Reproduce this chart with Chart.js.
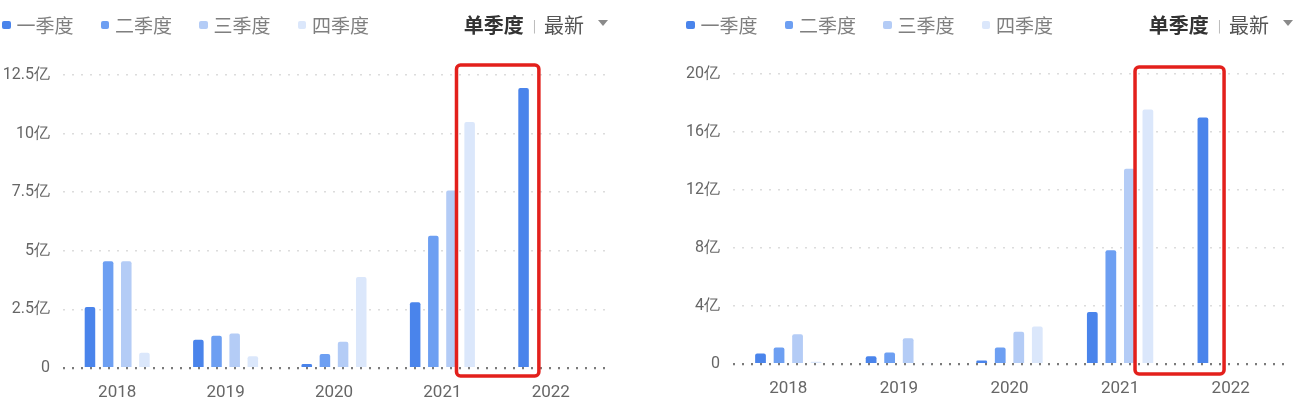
<!DOCTYPE html>
<html>
<head>
<meta charset="utf-8">
<script src="https://cdn.jsdelivr.net/npm/chart.js@4"></script>
<style>
  html, body { margin: 0; padding: 0; background: #fff; }
  body { width: 1300px; height: 412px; position: relative; overflow: hidden;
         font-family: "Noto Sans CJK SC", "Noto Sans", sans-serif; }
  .panel { position: absolute; top: 0; width: 650px; height: 412px; }
  .panel canvas { position: absolute; left: 0; top: 0; }
  .legend { position: absolute; top: 11px; display: flex; }
  .legend-item { display: flex; align-items: center; width: 98.5px; color: #7f7f7f; font-size: 19px; line-height: 28px; }
  .legend-item i { display: inline-block; width: 8.5px; height: 8.5px; border-radius: 2px; margin-right: 6px; }
  .mode { position: absolute; top: 11px; display: flex; align-items: center; line-height: 28px; }
  .mode b { font-size: 20px; color: #333; font-weight: 700; }
  .mode .sep { font-size: 12px; color: #aaa; margin: 0 8px 0 9px; }
  .mode span.latest { font-size: 20px; color: #555; }
  .mode .arrow { width: 0; height: 0; border-left: 5.5px solid transparent; border-right: 5.5px solid transparent;
                 border-top: 6px solid #8a8a8a; margin-left: 14px; margin-top: -4px; }
</style>
</head>
<body>
<div class="panel" id="leftPanel" style="left:0">
  <canvas id="leftChart" width="650" height="412"></canvas>
</div>
<div class="panel" id="rightPanel" style="left:650px">
  <canvas id="rightChart" width="650" height="412"></canvas>
</div>
<script>
"use strict";

// 年份 / 季度
const years = ["2018", "2019", "2020", "2021", "2022"];
const quarterNames = ["一季度", "二季度", "三季度", "四季度"];
const quarterColors = ["#4a84eb", "#6d9ff2", "#b4ccf6", "#dbe7fb"];

// 左图（亿）
const leftQ1 = [2.6, 1.2, 0.17, 2.8, 11.95];
const leftQ2 = [4.55, 1.38, 0.6, 5.64, null];
const leftQ3 = [4.55, 1.47, 1.12, 7.57, null];
const leftQ4 = [0.65, 0.5, 3.88, 10.5, null];
const leftTicks = [0, 2.5, 5, 7.5, 10, 12.5];

// 右图（亿）
const rightQ1 = [0.73, 0.53, 0.25, 3.59, 17.0];
const rightQ2 = [1.14, 0.8, 1.14, 7.85, null];
const rightQ3 = [2.06, 1.78, 2.22, 13.46, null];
const rightQ4 = [0.16, 0.06, 2.58, 17.55, null];
const rightTicks = [0, 4, 8, 12, 16, 20];

const modeLabel = "单季度";
const latestLabel = "最新";

// 红框：高亮 2021 四季度 ~ 2022 一季度
const highlightBox = {
  id: "highlightBox",
  afterDatasetsDraw(chart, args, opts) {
    const x = chart.scales.x;
    const area = chart.chartArea;
    const x0 = x.getPixelForValue(opts.from);
    const x1 = x.getPixelForValue(opts.to);
    const y0 = area.top - opts.above;
    const y1 = area.bottom + opts.below;
    const ctx = chart.ctx;
    ctx.save();
    ctx.strokeStyle = "#e3201c";
    ctx.lineWidth = 3.5;
    ctx.beginPath();
    ctx.roundRect(x0, y0, x1 - x0, y1 - y0, 4);
    ctx.stroke();
    ctx.restore();
  },
};

function addHeader(panel, legendLeft, modeRight) {
  const legend = document.createElement("div");
  legend.className = "legend";
  legend.style.left = legendLeft + "px";
  legend.innerHTML = quarterNames
    .map((n, i) => `<div class="legend-item"><i style="background:${quarterColors[i]}"></i>${n}</div>`)
    .join("");
  panel.appendChild(legend);

  const mode = document.createElement("div");
  mode.className = "mode";
  mode.style.right = modeRight + "px";
  mode.innerHTML = `<b>${modeLabel}</b><span class="sep">|</span><span class="latest">${latestLabel}</span><span class="arrow"></span>`;
  panel.appendChild(mode);
}

function makeChart(canvasId, series, ticks, layout) {
  const datasets = series.map((data, i) => ({
    label: quarterNames[i],
    data,
    backgroundColor: quarterColors[i],
    borderRadius: { topLeft: 2, topRight: 2 },
    borderSkipped: "bottom",
    categoryPercentage: 0.67,
    barPercentage: 0.58,
  }));

  return new Chart(document.getElementById(canvasId), {
    type: "bar",
    data: { labels: years, datasets },
    options: {
      responsive: false,
      animation: false,
      layout: { padding: { top: layout.top, right: layout.right, left: 0, bottom: 0 } },
      plugins: {
        legend: { display: false },
        tooltip: { enabled: false },
        highlightBox: layout.box,
      },
      scales: {
        x: {
          grid: { display: false, drawTicks: false },
          border: { display: false },
          ticks: { color: "#666", font: { size: 17, family: "Roboto" }, padding: 15 },
          afterFit: (s) => { s.height = layout.xHeight; },
        },
        y: {
          min: 0,
          max: ticks[ticks.length - 1],
          afterBuildTicks: (s) => { s.ticks = ticks.map((v) => ({ value: v })); },
          grid: {
            drawTicks: false,
            color: (c) => (c.tick && c.tick.value === 0 ? "#7a7a7a" : "#dcdcdc"),
            lineWidth: (c) => (c.tick && c.tick.value === 0 ? 2.2 : 1.6),
          },
          border: { display: false, dash: [2, 7] },
          ticks: {
            color: "#666",
            font: { size: 16, family: "Roboto" },
            padding: layout.tickPad,
            callback: (v) => (v === 0 ? "0" : v + "亿"),
          },
          afterFit: (s) => { s.width = layout.yWidth; },
        },
      },
    },
    plugins: [highlightBox],
  });
}

addHeader(document.getElementById("leftPanel"), 2, 42);
addHeader(document.getElementById("rightPanel"), 36, 7);

makeChart("leftChart", [leftQ1, leftQ2, leftQ3, leftQ4], leftTicks, {
  top: 75, right: 45, xHeight: 44, yWidth: 63, tickPad: 13,
  box: { from: 3.13, to: 3.89, above: 10, below: 8 },
});

makeChart("rightChart", [rightQ1, rightQ2, rightQ3, rightQ4], rightTicks, {
  top: 74, right: 14, xHeight: 48, yWidth: 83, tickPad: 13,
  box: { from: 3.135, to: 3.94, above: 7, below: 10 },
});
</script>
</body>
</html>
